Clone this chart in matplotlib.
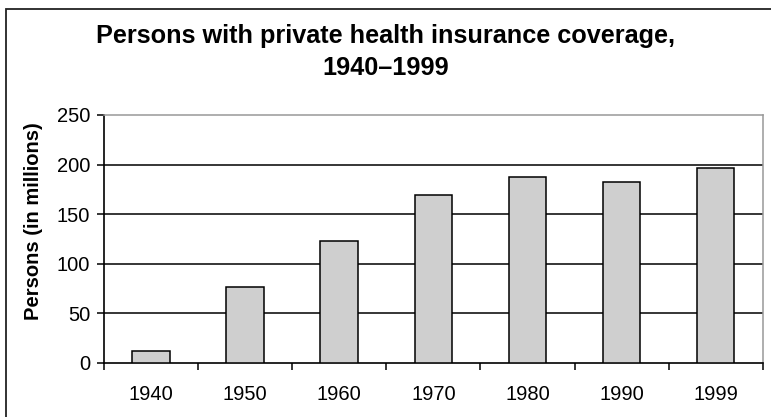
import matplotlib
matplotlib.use('Agg')
import matplotlib.pyplot as plt
from matplotlib.patches import Rectangle

# Data
years = ['1940', '1950', '1960', '1970', '1980', '1990', '1999']
persons = [12.3, 76.6, 122.5, 169, 187, 182, 197]

plt.rcParams['font.family'] = ['Liberation Sans', 'DejaVu Sans']

fig = plt.figure(figsize=(7.71, 4.17), dpi=100)
ax = fig.add_axes([104 / 771, 1 - 362.7 / 417, (762.7 - 104) / 771, (362.7 - 115) / 417])

x = list(range(len(years)))
ax.bar(x, persons, width=0.4, color='#cfcfcf', edgecolor='black', linewidth=1.1, zorder=3)

ax.set_xlim(-0.5, len(years) - 0.5)
ax.set_ylim(0, 250)
ax.set_yticks([0, 50, 100, 150, 200, 250])

# major ticks between categories, labels on minor ticks at centers
ax.set_xticks([i - 0.5 for i in range(len(years) + 1)])
ax.set_xticklabels([])
ax.set_xticks(x, minor=True)
ax.set_xticklabels(years, minor=True)
ax.tick_params(axis='x', which='major', direction='out', length=5, width=1.1, color='black')
ax.tick_params(axis='x', which='minor', length=0, pad=16, labelsize=14.5)
ax.tick_params(axis='y', direction='out', length=5, width=1.1, pad=5, labelsize=14.5)

# gridlines
for v in [50, 100, 150, 200]:
    ax.axhline(v, color='black', linewidth=1.1, zorder=1)

ax.spines['left'].set_linewidth(1.2)
ax.spines['bottom'].set_linewidth(1.2)
ax.spines['top'].set_color('#999999')
ax.spines['right'].set_color('#999999')
ax.spines['top'].set_linewidth(1.1)
ax.spines['right'].set_linewidth(1.1)

ax.set_ylabel('Persons (in millions)', fontsize=14.5, fontweight='bold')
ax.yaxis.set_label_coords(-0.0926, 0.572)

# title, two lines
fig.text(0.5, 1 - 43 / 417, 'Persons with private health insurance coverage,',
         ha='center', va='baseline', fontsize=18.2, fontweight='bold')
fig.text(0.5, 1 - 75 / 417, '1940\u20131999',
         ha='center', va='baseline', fontsize=18.2, fontweight='bold')

# outer frame, cut off at right and bottom as in the reference
fig.patches.append(Rectangle((6 / 771, -0.1), 1.2, 1.1 - 9 / 417, transform=fig.transFigure,
                             fill=False, edgecolor='#222222', linewidth=1.3))

fig.savefig('out.png', dpi=100)
